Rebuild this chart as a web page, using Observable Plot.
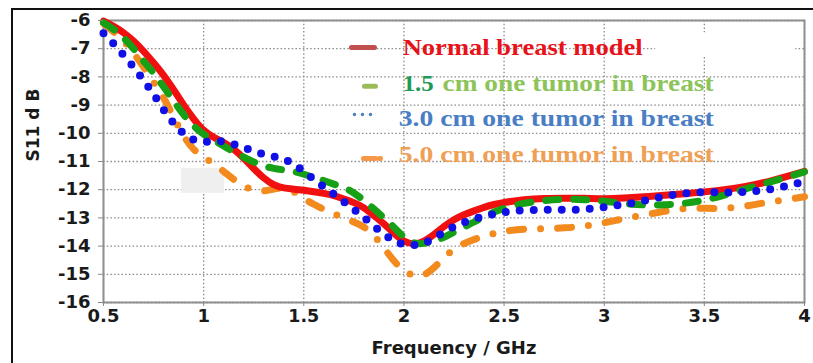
<!DOCTYPE html>
<html><head><meta charset="utf-8">
<script src="https://cdn.jsdelivr.net/npm/d3@7"></script>
<script src="https://cdn.jsdelivr.net/npm/@observablehq/plot@0.6"></script>
<style>
html,body{margin:0;padding:0;background:#fff;overflow:hidden;}
#wrap{position:relative;width:813px;height:363px;}
#border{position:absolute;left:11px;top:8px;width:900px;height:500px;border-top:2px solid #111;border-left:2px solid #111;pointer-events:none;}
</style></head><body><div id="wrap"><div id="border"></div></div>
<script>
// ---- data ----
const freq = [0.5,0.55,0.6,0.65,0.7,0.75,0.8,0.85,0.9,0.95,1.0,1.05,1.1,1.15,1.2,1.25,1.3,1.35,1.4,1.45,1.5,1.55,1.6,1.65,1.7,1.75,1.8,1.85,1.9,1.95,2.0,2.05,2.1,2.15,2.2,2.25,2.3,2.35,2.4,2.45,2.5,2.6,2.7,2.8,2.9,3.0,3.1,3.2,3.3,3.4,3.5,3.6,3.7,3.8,3.9,4.0];
const normalModel = [-6.02,-6.2,-6.42,-6.72,-7.08,-7.5,-7.93,-8.45,-9.0,-9.5,-9.92,-10.15,-10.32,-10.55,-10.88,-11.25,-11.6,-11.84,-11.95,-11.98,-12.02,-12.07,-12.13,-12.2,-12.33,-12.45,-12.62,-12.92,-13.2,-13.55,-13.85,-13.95,-13.85,-13.6,-13.3,-13.05,-12.88,-12.75,-12.62,-12.52,-12.45,-12.35,-12.3,-12.3,-12.3,-12.33,-12.3,-12.25,-12.2,-12.14,-12.08,-12.0,-11.9,-11.75,-11.55,-11.35];
const tumor15 = [-6.08,-6.3,-6.6,-6.99,-7.45,-7.85,-8.35,-8.85,-9.35,-9.75,-10.05,-10.25,-10.45,-10.66,-10.85,-11.02,-11.16,-11.25,-11.3,-11.35,-11.45,-11.56,-11.68,-11.8,-11.92,-12.1,-12.38,-12.68,-13.0,-13.32,-13.7,-13.92,-13.92,-13.82,-13.7,-13.5,-13.32,-13.15,-12.95,-12.79,-12.65,-12.47,-12.38,-12.33,-12.35,-12.4,-12.5,-12.55,-12.54,-12.49,-12.38,-12.2,-11.98,-11.78,-11.58,-11.37];
const tumor30 = [-6.45,-6.81,-7.23,-7.64,-8.12,-8.6,-9.18,-9.65,-10.03,-10.25,-10.32,-10.27,-10.28,-10.38,-10.5,-10.64,-10.75,-10.82,-10.9,-11.08,-11.35,-11.64,-11.9,-12.16,-12.42,-12.7,-12.97,-13.3,-13.58,-13.83,-13.96,-13.97,-13.92,-13.72,-13.5,-13.31,-13.15,-13.04,-12.94,-12.86,-12.79,-12.72,-12.71,-12.71,-12.71,-12.62,-12.52,-12.4,-12.23,-12.12,-12.08,-12.1,-12.09,-12.02,-11.9,-11.7];
const tumor50 = [-6.1,-6.4,-6.7,-7.15,-7.64,-8.18,-8.72,-9.42,-10.12,-10.6,-10.85,-11.08,-11.35,-11.64,-11.88,-12.03,-12.06,-11.97,-11.92,-12.05,-12.32,-12.52,-12.7,-12.85,-13.0,-13.14,-13.3,-13.6,-14.05,-14.55,-14.88,-15.08,-15.06,-14.78,-14.4,-14.1,-13.9,-13.76,-13.65,-13.55,-13.47,-13.39,-13.38,-13.36,-13.3,-13.18,-13.02,-12.89,-12.77,-12.65,-12.66,-12.67,-12.6,-12.46,-12.36,-12.25];
const xTicks = [0.5,1,1.5,2,2.5,3,3.5,4];
const xTickLabels = ["0.5","1","1.5","2","2.5","3","3.5","4"];
const yTicks = [-6,-7,-8,-9,-10,-11,-12,-13,-14,-15,-16];
const yTickLabels = ["-6","-7","-8","-9","-10","-11","-12","-13","-14","-15","-16"];
const legendLabels = ["Normal breast model","1.5","cm one tumor in breast","3.0 cm one tumor in breast","5.0 cm one tumor in breast"];
const xLabel = "Frequency / GHz";
const yLabel = "S11 d B";

// ---- layout helpers ----
const rows = vals => freq.map((f, i) => ({f, v: vals[i]}));
const legendText = [
  {label: legendLabels[0], x: 1.9935, y: -6.95, fill: "#e8121a", len: 240},
  {label: legendLabels[1], x: 1.9935, y: -8.22, fill: "#1f9a55", len: 31},
  {label: legendLabels[2], x: 2.193, y: -8.22, fill: "#8dc45a", len: 271},
  {label: legendLabels[3], x: 1.974, y: -9.48, fill: "#4a7ec4", len: 315},
  {label: legendLabels[4], x: 1.974, y: -10.74, fill: "#efa055", len: 315}
];
const sample = (x1, x2, y) => [{f: x1, v: y}, {f: x2, v: y}];
const patches = [
  {x1: 0.89, x2: 1.104, y1: -11.24, y2: -12.13, fill: "#efefef"},
  {x1: 3.257, x2: 3.956, y1: -6.44, y2: -7.30, fill: "#ffffff"}
];
const xFmt = d => xTickLabels[xTicks.indexOf(d)];
const yFmt = d => yTickLabels[yTicks.indexOf(d)];

const plot = Plot.plot({
  width: 813, height: 363,
  marginLeft: 103, marginRight: 9, marginTop: 20, marginBottom: 61,
  style: {fontFamily: "'DejaVu Sans', Verdana, sans-serif", fontWeight: "bold", fontSize: "18px", color: "#1a1a1a", background: "#fff"},
  x: {domain: [0.5, 4]},
  y: {domain: [-16, -6]},
  marks: [
    Plot.gridX(xTicks, {stroke: "#8a8a8a", strokeOpacity: 1, strokeWidth: 1.3, strokeDasharray: "1.5,2.2"}),
    Plot.gridY(yTicks, {stroke: "#8a8a8a", strokeOpacity: 1, strokeWidth: 1.3, strokeDasharray: "1.5,2.2"}),
    Plot.rect(patches, {x1: "x1", x2: "x2", y1: "y1", y2: "y2", fill: "fill"}),
    Plot.frame({stroke: "#8f8f8f", strokeWidth: 2}),
    Plot.line(rows(tumor50), {x: "f", y: "v", stroke: "#f28a1e", strokeWidth: 7, strokeLinecap: "round", strokeDasharray: "14,17,0,17", curve: "basis"}),
    Plot.line(rows(normalModel), {x: "f", y: "v", stroke: "#f01010", strokeWidth: 7, curve: "basis"}),
    Plot.line(rows(tumor15), {x: "f", y: "v", stroke: "#16a016", strokeWidth: 7, strokeLinecap: "round", strokeDasharray: "13,15", curve: "basis"}),
    Plot.line(rows(tumor30), {x: "f", y: "v", stroke: "#1010e6", strokeWidth: 8, strokeLinecap: "round", strokeDasharray: "0,14", curve: "basis"}),
    // legend samples
    Plot.line(sample(1.738, 1.853, -6.96), {x: "f", y: "v", stroke: "#c0504d", strokeWidth: 5}),
    Plot.line(sample(1.803, 1.858, -8.33), {x: "f", y: "v", stroke: "#9bbb59", strokeWidth: 5}),
    Plot.line(sample(1.753, 1.833, -9.33), {x: "f", y: "v", stroke: "#4f81bd", strokeWidth: 3.5, strokeLinecap: "round", strokeDasharray: "0,8"}),
    Plot.line(sample(1.798, 1.883, -10.89), {x: "f", y: "v", stroke: "#f79646", strokeWidth: 5, strokeDasharray: "12,4,2,20"}),
    Plot.text(legendText, {x: "x", y: "y", text: "label", fill: "fill", textAnchor: "start", lineAnchor: "middle", fontFamily: "'Liberation Serif', 'Times New Roman', serif", fontWeight: "bold", fontSize: 24}),
    Plot.axisX({ticks: xTicks, tickFormat: xFmt, tickSize: 4, tickPadding: 3, stroke: "#888", fill: "#1a1a1a", label: null, fontSize: 18}),
    Plot.axisY({ticks: yTicks, tickFormat: yFmt, tickSize: 5, tickPadding: 8, stroke: "#888", fill: "#1a1a1a", label: null, fontSize: 18}),
    Plot.text([xLabel], {frameAnchor: "bottom", dy: 46, lineAnchor: "middle", fontSize: 18, fontWeight: "bold", fill: "#1a1a1a"}),
    Plot.text([yLabel], {frameAnchor: "left", dx: -70, dy: 0, rotate: -90, lineAnchor: "middle", fontSize: 17, fontWeight: "bold", fill: "#1a1a1a"})
  ]
});

const lens = new Map(legendText.map(d => [d.label, d.len]));
plot.querySelectorAll("text").forEach(t => {
  const L = lens.get(t.textContent);
  if (L) { t.setAttribute("textLength", L); t.setAttribute("lengthAdjust", "spacingAndGlyphs"); }
});
document.getElementById("wrap").prepend(plot);
</script></body></html>
